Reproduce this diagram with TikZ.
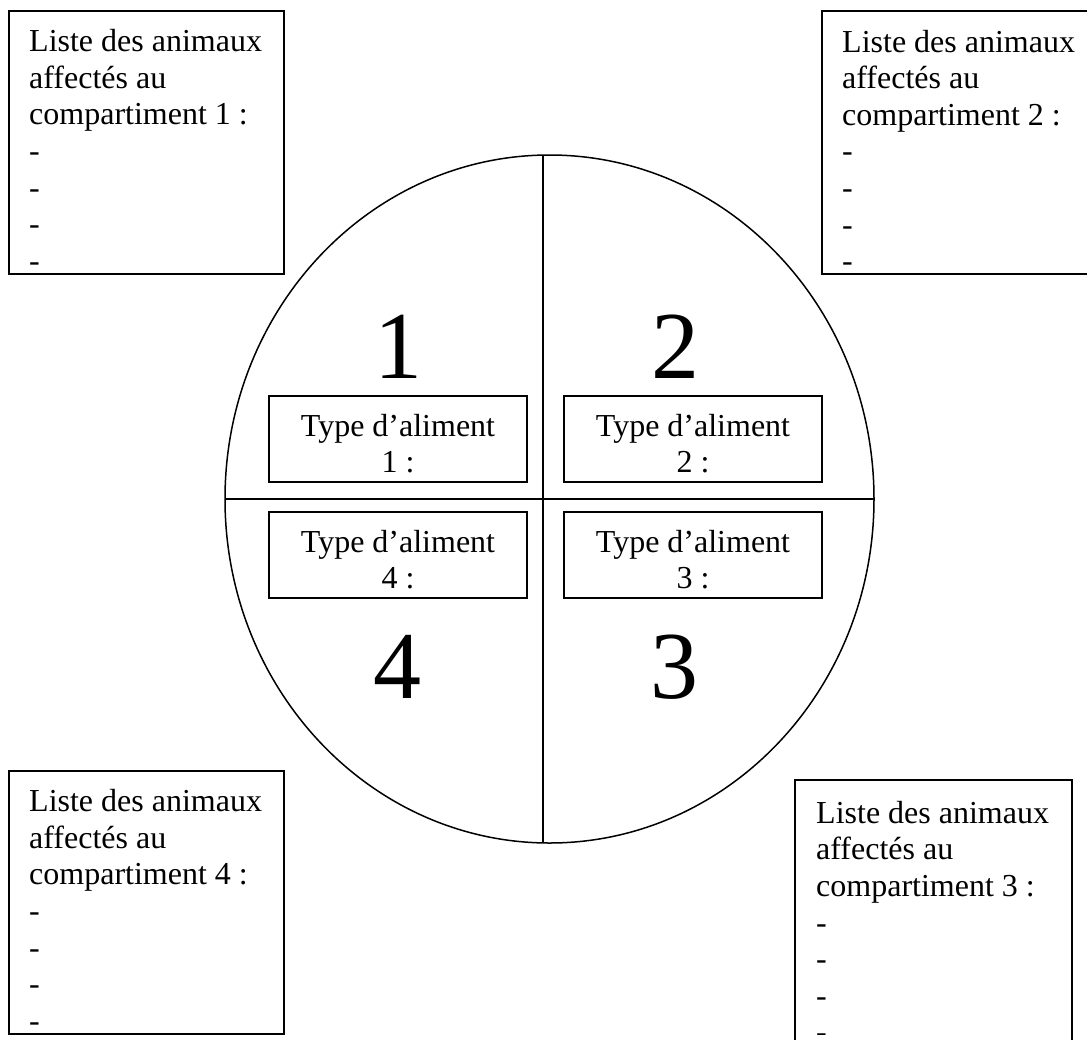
\documentclass[tikz,border=0pt]{standalone}
\usepackage{fontspec}
\setmainfont{Liberation Serif}
\usetikzlibrary{shapes.geometric}
\tikzset{
  listbox/.style={draw, line width=1.6pt, rectangle, inner sep=0pt},
  foodbox/.style={draw, line width=1.5pt, rectangle, inner sep=0pt, minimum width=258, minimum height=86},
  ltxt/.style={anchor=base west, inner sep=0pt, font=\fontsize{32}{36.6}\selectfont},
  ctxt/.style={anchor=base, inner sep=0pt, font=\fontsize{32}{36.6}\selectfont},
  bignum/.style={anchor=base, inner sep=0pt, font=\fontsize{96}{96}\selectfont},
  divider/.style={line width=1.3pt},
}
\newcommand{\listtext}[5]{% prefix, x, first baseline, number, clip y
  \begin{scope}
    \clip (#2-25,#3-45) rectangle (#2+300,#5);
    \node[ltxt] (#1a) at (#2,#3) {Liste des animaux};
    \node[ltxt] (#1b) at (#2,#3+36.6) {affectés au};
    \node[ltxt] (#1c) at (#2,#3+73.2) {compartiment #4 :};
    \node[ltxt] (#1d) at (#2,#3+109.8) {-};
    \node[ltxt] (#1e) at (#2,#3+146.4) {-};
    \node[ltxt] (#1f) at (#2,#3+183.0) {-};
    \node[ltxt] (#1g) at (#2,#3+219.6) {-};
  \end{scope}
}
\begin{document}
\begin{tikzpicture}[x=1pt,y=-1pt]
\useasboundingbox (0,0) rectangle (1087,1039);
\fill[white] (0,0) rectangle (1087,1039);

% outer list boxes
\node[listbox, minimum width=275, minimum height=263] (L1) at (146.5,142.5) {};
\node[listbox, minimum width=273, minimum height=263] (L2) at (958.5,142.5) {};
\node[listbox, minimum width=275, minimum height=263] (L4) at (146.5,902.5) {};
\node[listbox, minimum width=277, minimum height=270] (L3) at (933.5,915) {};

\listtext{t1}{29}{51.7}{1}{264}
\listtext{t2}{842}{52}{2}{264.3}
\listtext{t4}{29}{811.7}{4}{1024}
\listtext{t3}{816}{823.3}{3}{1034}

% circle
\node[draw, ellipse, line width=1.5pt, inner sep=0pt, minimum width=649, minimum height=688] (C) at (549.5,499) {};
\coordinate (vt) at (543,155.2);
\coordinate (vb) at (543,842.8);
\coordinate (hl) at (225,499);
\coordinate (hr) at (874,499);
\draw[divider] (vt) -- (vb);
\draw[divider] (hl) -- (hr);

% big numbers
\node[bignum] (n1) at (398,378) {1};
\node[bignum] (n2) at (675,378) {2};
\node[bignum] (n4) at (397,698) {4};
\node[bignum] (n3) at (674,698) {3};

% food type boxes
\node[foodbox] (F1) at (398,439) {};
\node[foodbox] (F2) at (693,439) {};
\node[foodbox] (F4) at (398,555) {};
\node[foodbox] (F3) at (693,555) {};

\node[ctxt] (f1a) at (398,436) {Type d’aliment};
\node[ctxt] (f1b) at (398,472) {1 :};
\node[ctxt] (f2a) at (693,436) {Type d’aliment};
\node[ctxt] (f2b) at (693,472) {2 :};
\node[ctxt] (f4a) at (398,552) {Type d’aliment};
\node[ctxt] (f4b) at (398,588) {4 :};
\node[ctxt] (f3a) at (693,552) {Type d’aliment};
\node[ctxt] (f3b) at (693,588) {3 :};
\end{tikzpicture}
\end{document}
